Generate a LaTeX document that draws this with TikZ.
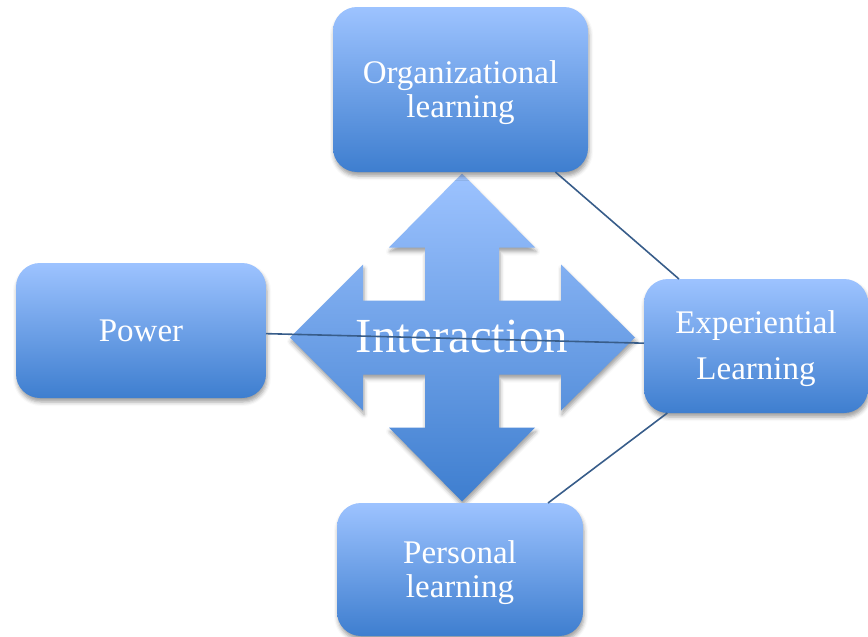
\documentclass[tikz,border=0pt]{standalone}
\usepackage{fontspec}
\setmainfont{Liberation Serif}
\usetikzlibrary{shadows.blur}
\definecolor{boxtop}{RGB}{157,195,255}
\definecolor{boxbot}{RGB}{62,126,207}
\definecolor{linkc}{RGB}{56,93,138}
\newcommand{\topstrut}{\rule{0pt}{29pt}}
\tikzset{
  softshadow/.style={blur shadow={shadow xshift=1pt, shadow yshift=-4pt, shadow blur radius=4pt, shadow opacity=38}},
  box/.style={rounded corners=24pt, top color=boxtop, bottom color=boxbot, text=white,
    align=center, font=\fontsize{33}{34}\selectfont, inner sep=0pt, outer sep=0pt, softshadow},
  link/.style={draw=linkc, line width=1.6pt},
  bigarrow/.style={top color=boxtop, bottom color=boxbot, softshadow},
}
\begin{document}
\begin{tikzpicture}[x=1pt, y=-1pt]
\useasboundingbox (0,0) rectangle (868,637);
% four-way arrow
\coordinate (arrowc) at (462,337.5);
\shade[bigarrow] (462,173.5) -- (535,247.5) -- (499,247.5) -- (499,300.5) -- (561,300.5) -- (561,264.5)
  -- (635,337.5) -- (561,410.5) -- (561,374.5) -- (499,374.5) -- (499,427.5) -- (535,427.5)
  -- (462,501.5) -- (389,427.5) -- (425,427.5) -- (425,374.5) -- (363,374.5) -- (363,410.5)
  -- (290,337.5) -- (363,264.5) -- (363,300.5) -- (425,300.5) -- (425,247.5) -- (389,247.5) -- cycle;
\node[font=\fontsize{49}{50}\selectfont, text=white, anchor=base, inner sep=0pt] (inter) at (462,352) {Interaction};
% boxes
\node[box, minimum width=255pt, minimum height=165pt] (org) at (460.5,89.5) {\topstrut Organizational\\learning};
\node[box, minimum width=250pt, minimum height=135pt] (power) at (141,330.5) {Power};
\node[box, minimum width=224pt, minimum height=134pt, font=\fontsize{33}{46}\selectfont] (exp) at (756,346) {\topstrut Experiential\\Learning};
\node[box, minimum width=246pt, minimum height=133pt] (pers) at (460,569.5) {\topstrut Personal\\learning};
% connectors
\draw[link] (power) -- (exp);
\draw[link] (org) -- (exp);
\draw[link] (exp) -- (pers);
\end{tikzpicture}
\end{document}
